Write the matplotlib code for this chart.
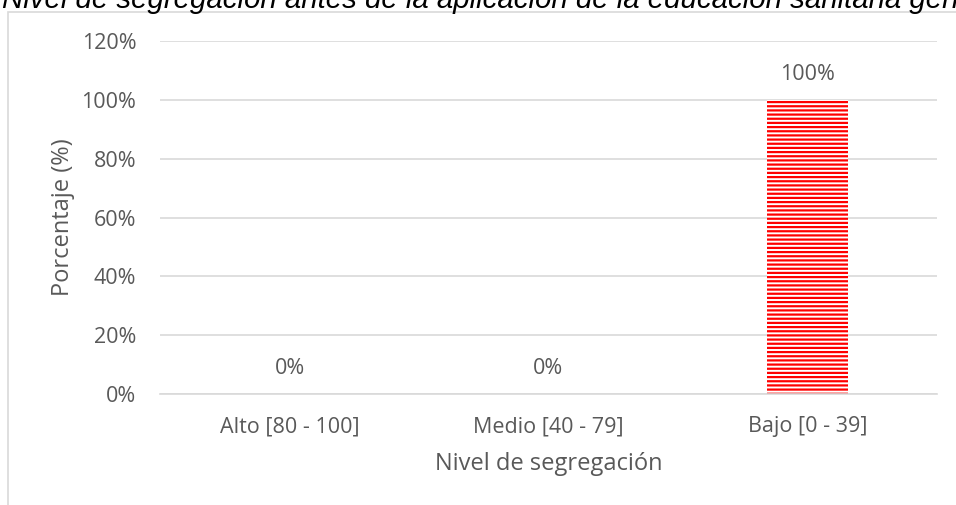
import matplotlib
matplotlib.use("Agg")
import matplotlib.pyplot as plt
from matplotlib.patches import Rectangle
from matplotlib.ticker import FuncFormatter

categories = ["Alto [80 - 100]", "Medio [40 - 79]", "Bajo [0 - 39]"]
values = [0, 0, 100]
yticks = [0, 20, 40, 60, 80, 100, 120]

plt.rcParams['hatch.linewidth'] = 1.6
plt.rcParams['hatch.color'] = '#FF0000'

W, H = 956, 505
fig = plt.figure(figsize=(W/100, H/100), dpi=100)
txt = '#595959'
font = ['Open Sans', 'DejaVu Sans']

# outer chart border
fig.patches.append(Rectangle((8/W, -0.1), 1.2, (H-12)/H + 0.1, transform=fig.transFigure,
                             fill=False, edgecolor='#D9D9D9', linewidth=1.2))

ax = fig.add_axes([160/W, 1-394/H, (937-160)/W, (394-41)/H])
x = list(range(len(categories)))
ax.bar(x, values, width=0.31, color='white', edgecolor='#FF0000', hatch='----', linewidth=0)
ax.set_xlim(-0.5, 2.5)
ax.set_ylim(0, 120)
ax.set_yticks(yticks)
ax.yaxis.set_major_formatter(FuncFormatter(lambda v, p: f"{int(v)}%"))
ax.set_xticks(x)
ax.set_xticklabels(categories)
ax.grid(axis='y', color='#D9D9D9', linewidth=1.2)
ax.set_axisbelow(True)
for s in ['top', 'right', 'left']:
    ax.spines[s].set_visible(False)
ax.spines['bottom'].set_color('#D9D9D9')
ax.spines['bottom'].set_linewidth(1.2)
ax.tick_params(length=0, labelsize=15.5, colors=txt)
ax.tick_params(axis='y', pad=17)
ax.tick_params(axis='x', pad=16)
for lab in ax.get_xticklabels() + ax.get_yticklabels():
    lab.set_family(font)

for xi, v in zip(x, values):
    ax.annotate(f"{v}%", (xi, v), xytext=(0, 11), textcoords='offset points',
                ha='center', va='bottom', fontsize=15.5, color=txt, family=font)

ax.set_xlabel("Nivel de segregación", fontsize=17, color=txt, family=font, labelpad=11)
ax.set_ylabel("Porcentaje (%)", fontsize=17, color=txt, family=font, labelpad=5)

fig.text(2/W, 1-8/H, "Nivel de segregación antes de la aplicación de la educación sanitaria general",
         fontsize=21.2, style='italic', family=['Liberation Sans', 'DejaVu Sans'], color='black',
         ha='left', va='baseline')

fig.savefig("out.png", dpi=100)
